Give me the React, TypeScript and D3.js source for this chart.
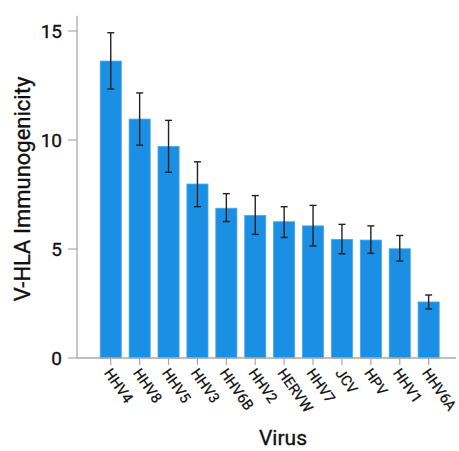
import React from "react";
import * as d3 from "d3";

const viruses = ["HHV4", "HHV8", "HHV5", "HHV3", "HHV6B", "HHV2", "HERVW", "HHV7", "JCV", "HPV", "HHV1", "HHV6A"];
const means = [13.62, 10.96, 9.71, 7.98, 6.87, 6.54, 6.25, 6.06, 5.44, 5.41, 5.01, 2.57];
const errLow = [12.34, 9.76, 8.52, 6.94, 6.26, 5.67, 5.53, 5.14, 4.78, 4.8, 4.45, 2.25];
const errHigh = [14.92, 12.16, 10.9, 9.0, 7.54, 7.45, 6.94, 7.0, 6.13, 6.06, 5.62, 2.89];
const yTicks = [0, 5, 10, 15];

const width = 459;
const height = 451;
const font = "Roboto, 'DejaVu Sans', sans-serif";

export default function App() {
  const axisX = 77;
  const axisRight = 456;
  const baseY = 358;

  const x = d3
    .scaleBand<string>()
    .domain(viruses)
    .range([96.3, 443.1])
    .paddingInner(0.27)
    .paddingOuter(0.135);
  const y = d3.scaleLinear().domain([0, 15]).range([baseY, 31]);
  const top = y(15.7);

  return (
    <svg
      width={width}
      height={height}
      style={{ position: "absolute", left: 0, top: 0 }}
      fontFamily={font}
    >
      <rect width={width} height={height} fill="#fff" />
      {viruses.map((v, i) => {
        const bx = x(v) as number;
        const cx = bx + x.bandwidth() / 2;
        return (
          <g key={v}>
            <rect
              x={bx}
              y={y(means[i])}
              width={x.bandwidth()}
              height={baseY - y(means[i])}
              fill="#1a8fe3"
              stroke="#4aa6ea"
              strokeWidth={0.8}
            />
            <line x1={cx} x2={cx} y1={y(errLow[i])} y2={y(errHigh[i])} stroke="#222" strokeWidth={1.4} />
            <line x1={cx - 3.5} x2={cx + 3.5} y1={y(errHigh[i])} y2={y(errHigh[i])} stroke="#222" strokeWidth={1.4} />
            <line x1={cx - 3.5} x2={cx + 3.5} y1={y(errLow[i])} y2={y(errLow[i])} stroke="#222" strokeWidth={1.4} />
            <line x1={cx} x2={cx} y1={baseY} y2={baseY + 7} stroke="#aaa" strokeWidth={1.2} />
            <text
              transform={`translate(${cx - 3},${baseY + 12}) rotate(55)`}
              fontSize={14.5}
              fill="#111"
              dy="0.35em"
              stroke="#111"
              strokeWidth={0.25}
            >
              {v}
            </text>
          </g>
        );
      })}
      <line x1={axisX} x2={axisX} y1={top} y2={baseY} stroke="#aaa" strokeWidth={1.3} />
      <line x1={axisX} x2={axisRight} y1={baseY} y2={baseY} stroke="#aaa" strokeWidth={1.3} />
      {yTicks.map((t) => (
        <g key={t}>
          <line x1={axisX - 9} x2={axisX} y1={y(t)} y2={y(t)} stroke="#aaa" strokeWidth={1.2} />
          <text x={62} y={y(t)} dy="0.36em" textAnchor="end" fontSize={19} fill="#111" stroke="#111" strokeWidth={0.35}>
            {t}
          </text>
        </g>
      ))}
      <text
        transform={`translate(30,189) rotate(-90)`}
        textAnchor="middle"
        fontSize={22}
        fill="#111"
        stroke="#111"
        strokeWidth={0.35}
      >
        V-HLA Immunogenicity
      </text>
      <text x={283} y={445} textAnchor="middle" fontSize={21} fill="#111" stroke="#111" strokeWidth={0.35}>
        Virus
      </text>
    </svg>
  );
}
